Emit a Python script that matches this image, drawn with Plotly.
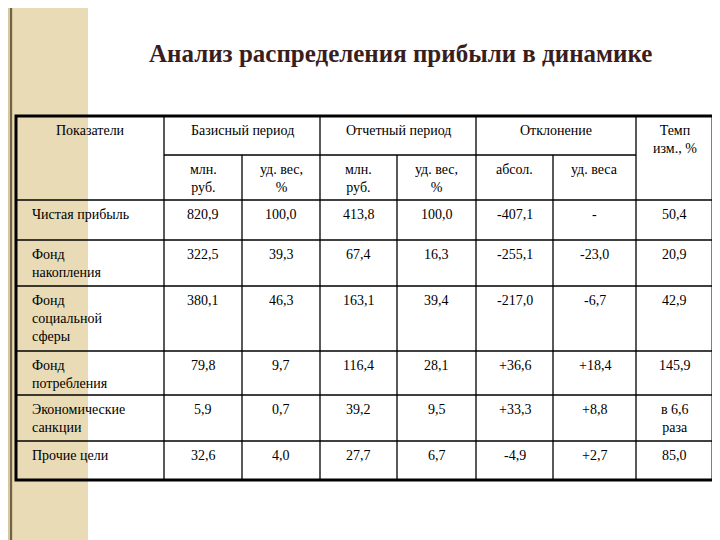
import plotly.graph_objects as go

title = "Анализ распределения прибыли в динамике"
indicators = ["Чистая прибыль", "Фонд<br>накопления", "Фонд<br>социальной<br>сферы",
              "Фонд<br>потребления", "Экономические<br>санкции", "Прочие цели"]
base_mln = ["820,9", "322,5", "380,1", "79,8", "5,9", "32,6"]
base_share = ["100,0", "39,3", "46,3", "9,7", "0,7", "4,0"]
rep_mln = ["413,8", "67,4", "163,1", "116,4", "39,2", "27,7"]
rep_share = ["100,0", "16,3", "39,4", "28,1", "9,5", "6,7"]
dev_abs = ["-407,1", "-255,1", "-217,0", "+36,6", "+33,3", "-4,9"]
dev_share = ["-", "-23,0", "-6,7", "+18,4", "+8,8", "+2,7"]
growth = ["50,4", "20,9", "42,9", "145,9", "в 6,6<br>раза", "85,0"]
group_headers = ["Базисный период", "Отчетный период", "Отклонение"]
sub_headers = ["млн.<br>руб.", "уд. вес,<br>%", "млн.<br>руб.", "уд. вес,<br>%", "абсол.", "уд. веса"]

xs = [8, 156, 234, 312, 389, 468, 545, 628, 705]
ys = [108, 147, 192, 232, 278, 343, 387, 433, 472]
FONT = "Liberation Serif"

shapes = []
ann = []
def line(x0, y0, x1, y1, w=1.3):
    shapes.append(dict(type="line", x0=x0, y0=y0, x1=x1, y1=y1, xref="x", yref="y",
                       line=dict(color="black", width=w)))
shapes.append(dict(type="rect", x0=0, x1=80, y0=0, y1=540, xref="x", yref="y",
                   fillcolor="#e9dbb5", line=dict(width=0), layer="below"))
shapes.append(dict(type="rect", x0=0, x1=5, y0=0, y1=540, xref="x", yref="y",
                   fillcolor="#d8c79a", line=dict(width=0), layer="below"))
line(3, 0, 3, 540, 1)
shapes.append(dict(type="rect", x0=xs[0], x1=xs[-1], y0=ys[0], y1=ys[-1], xref="x", yref="y",
                   line=dict(color="black", width=3)))
for i in [1, 3, 5, 7]:
    line(xs[i], ys[0], xs[i], ys[-1])
for i in [2, 4, 6]:
    line(xs[i], ys[1], xs[i], ys[-1])
line(xs[1], ys[1], xs[7], ys[1])
for j in range(2, 8):
    line(xs[0], ys[j], xs[-1], ys[j])

def txt(x, y, t, size=14, anchor="center"):
    ann.append(dict(x=x, y=y, text=t, xref="x", yref="y", showarrow=False, xanchor=anchor,
                    yanchor="top", align="left" if anchor == "left" else "center",
                    font=dict(family=FONT, size=size, color="black")))

ann.append(dict(x=392, y=45, text="<b>" + title + "</b>", xref="x", yref="y", showarrow=False,
                font=dict(family=FONT, size=25, color="#3a1d1d")))
txt((xs[0] + xs[1]) / 2, ys[0] + 5, "Показатели")
for k, g in enumerate(group_headers):
    txt((xs[1 + 2 * k] + xs[3 + 2 * k]) / 2, ys[0] + 5, g)
txt((xs[7] + xs[8]) / 2, ys[0] + 5, "Темп<br>изм., %")
for k, s in enumerate(sub_headers):
    txt((xs[1 + k] + xs[2 + k]) / 2, ys[1] + 5, s)
cols = [base_mln, base_share, rep_mln, rep_share, dev_abs, dev_share, growth]
for r in range(len(indicators)):
    y = ys[2 + r] + 5
    txt(22, y, indicators[r], anchor="left")
    for c, col in enumerate(cols):
        txt((xs[1 + c] + xs[2 + c]) / 2, y, col[r])

fig = go.Figure()
fig.update_layout(width=720, height=540, margin=dict(l=0, r=0, t=0, b=0),
                  plot_bgcolor="white", paper_bgcolor="white", showlegend=False,
                  xaxis=dict(range=[0, 720], visible=False, fixedrange=True),
                  yaxis=dict(range=[540, 0], visible=False, fixedrange=True),
                  shapes=shapes, annotations=ann)
fig.write_html("out.html")
